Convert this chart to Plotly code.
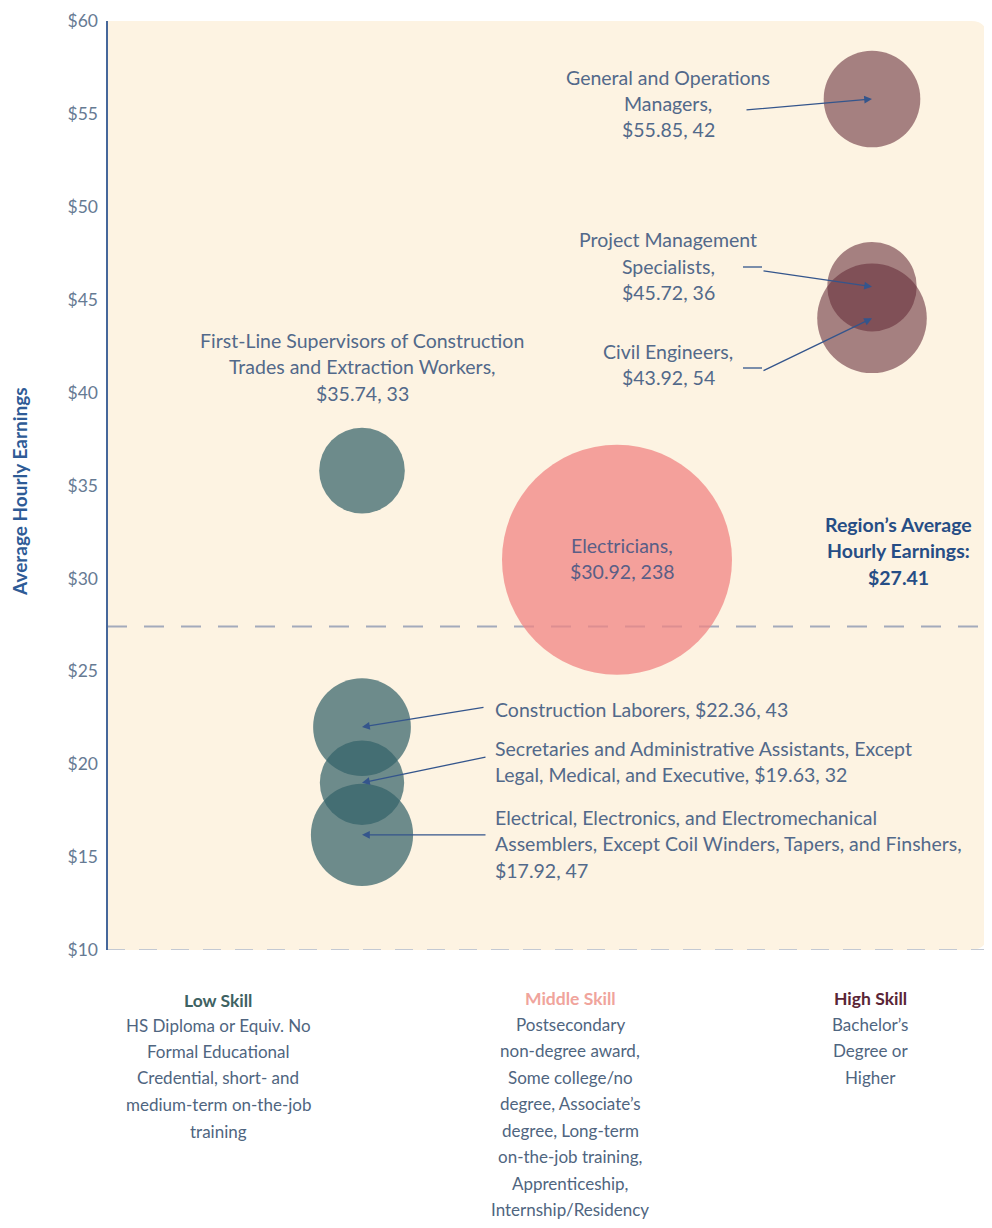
import plotly.graph_objects as go

# occupations, skill group, label values and bubble positions as drawn
occupations = [
    "First-Line Supervisors of Construction Trades and Extraction Workers",
    "Construction Laborers",
    "Secretaries and Administrative Assistants, Except Legal, Medical, and Executive",
    "Electrical, Electronics, and Electromechanical Assemblers, Except Coil Winders, Tapers, and Finshers",
    "Electricians",
    "General and Operations Managers",
    "Project Management Specialists",
    "Civil Engineers",
]
skill = ["Low", "Low", "Low", "Low", "Middle", "High", "High", "High"]
wage_label = ["$35.74", "$22.36", "$19.63", "$17.92", "$30.92", "$55.85", "$45.72", "$43.92"]
drawn_wage = [35.8, 22.0, 19.0, 16.2, 31.0, 55.8, 45.7, 44.0]
jobs = [33, 43, 32, 47, 238, 42, 36, 54]
region_avg = 27.41
y_ticks = [10, 15, 20, 25, 30, 35, 40, 45, 50, 55, 60]

skill_x = {"Low": 1, "Middle": 2, "High": 3}
skill_color = {
    "Low": "rgba(52,99,105,0.72)",
    "Middle": "rgba(240,132,131,0.75)",
    "High": "rgba(102,45,57,0.58)",
}

# page body has an 8px margin, so the figure is shrunk to fit the window
OFF = 8
W, H = 992 - OFF, 1228 - OFF
L, R, T, B = 107 - OFF, 5, 21 - OFF, 278
pw, ph = W - L - R, H - T - B


def px(x):
    return (x - OFF - L) / pw


def py(y):
    return (H - B - (y - OFF)) / ph


fig = go.Figure()

fig.add_trace(go.Scatter(
    x=[skill_x[s] for s in skill],
    y=drawn_wage,
    mode="markers",
    marker=dict(
        size=jobs,
        sizemode="area",
        sizeref=2 * max(jobs) / 230 ** 2,
        color=[skill_color[s] for s in skill],
        opacity=1,
        line=dict(width=0),
    ),
    hovertext=occupations,
    showlegend=False,
))

label_col = "#52698a"
arrow_col = "#34558c"
font_name = "Lato"


def text_lines(lines, x, y0, anchor="center", color=label_col, size=19.5, bold=False,
               step=26.5):
    for i, t in enumerate(lines):
        if bold:
            t = "<b>" + t + "</b>"
        fig.add_annotation(
            x=px(x), y=py(y0 + i * step), xref="paper", yref="paper",
            text=t, showarrow=False, xanchor=anchor, yanchor="middle",
            font=dict(family=font_name, size=size, color=color),
        )


def arrow(i, ax, ay):
    fig.add_annotation(
        x=skill_x[skill[i]], y=drawn_wage[i], xref="x", yref="y",
        text="", showarrow=True, ax=ax, ay=ay,
        arrowhead=2, arrowsize=1.2, arrowwidth=1.3, arrowcolor=arrow_col,
        standoff=0,
    )


def elbow(x0, x1, y):
    fig.add_shape(type="line", xref="paper", yref="paper",
                  x0=px(x0), x1=px(x1), y0=py(y), y1=py(y),
                  line=dict(color=arrow_col, width=1.3))


# bubble labels
text_lines(["First-Line Supervisors of Construction",
            "Trades and Extraction Workers,",
            f"{wage_label[0]}, {jobs[0]}"], 362, 340)
text_lines(["General and Operations", "Managers,", f"{wage_label[5]}, {jobs[5]}"], 668, 77)
text_lines(["Project Management", "Specialists,", f"{wage_label[6]}, {jobs[6]}"], 668, 240)
text_lines(["Civil Engineers,", f"{wage_label[7]}, {jobs[7]}"], 668, 351)
text_lines(["Electricians,", f"{wage_label[4]}, {jobs[4]}"], 622, 545, color="#5a5e86")
text_lines([f"Construction Laborers, {wage_label[1]}, {jobs[1]}"], 493, 709, anchor="left")
text_lines(["Secretaries and Administrative Assistants, Except",
            f"Legal, Medical, and Executive, {wage_label[2]}, {jobs[2]}"], 493, 748, anchor="left")
text_lines(["Electrical, Electronics, and Electromechanical",
            "Assemblers, Except Coil Winders, Tapers, and Finshers,",
            f"{wage_label[3]}, {jobs[3]}"], 493, 817, anchor="left")

arrow(5, -127, 11)
arrow(6, -110, -16)
elbow(743, 762, 267)
arrow(7, -110, 53)
elbow(743, 762, 368)
arrow(1, 123, -20)
arrow(2, 125, -26)
arrow(3, 125, 0)

text_lines(["Region\u2019s Average", "Hourly Earnings:", f"${region_avg}"], 898, 524,
           color="#264d85", bold=True, size=19.5)

# y axis title
fig.add_annotation(
    x=px(20), y=py(492), xref="paper", yref="paper", text="<b>Average Hourly Earnings</b>",
    textangle=-90, showarrow=False, xanchor="center", yanchor="middle",
    font=dict(family=font_name, size=19, color="#2e5b96"),
)

# skill group captions under the chart
text_lines(["Low Skill"], 218, 1000, color="#3e6262", bold=True, size=17.5)
text_lines(["HS Diploma or Equiv. No", "Formal Educational", "Credential, short- and",
            "medium-term on-the-job", "training"], 218, 1025, color="#4f6580", size=17)
text_lines(["Middle Skill"], 570, 998, color="#f0a49c", bold=True, size=17.5)
text_lines(["Postsecondary", "non-degree award,", "Some college/no", "degree, Associate\u2019s",
            "degree, Long-term", "on-the-job training,", "Apprenticeship,",
            "Internship/Residency"], 570, 1024, color="#4f6580", size=17)
text_lines(["High Skill"], 870, 998, color="#5a2536", bold=True, size=17.5)
text_lines(["Bachelor\u2019s", "Degree or", "Higher"], 870, 1024, color="#4f6580", size=17)

# beige plot panel with rounded right corners
rx, ry = 16 / pw, 16 / ph
fig.add_shape(
    type="path", xref="paper", yref="paper", layer="below",
    path=f"M 0,0 L {1 - rx},0 Q 1,0 1,{ry} L 1,{1 - ry} Q 1,1 {1 - rx},1 L 0,1 Z",
    fillcolor="#fdf3e2", line=dict(width=0),
)
# region average line and base line
fig.add_shape(type="line", xref="paper", yref="y", layer="below",
              x0=0, x1=(W - L) / pw, y0=region_avg, y1=region_avg,
              line=dict(color="#a3aabb", width=2, dash="20px,17px"))
fig.add_shape(type="line", xref="paper", yref="y", layer="below",
              x0=0, x1=1, y0=10, y1=10,
              line=dict(color="#c3c9d3", width=2, dash="18px,14px"))
# y axis line
fig.add_shape(type="line", xref="paper", yref="paper",
              x0=0, x1=0, y0=0, y1=1, line=dict(color="#46679a", width=2))

fig.update_xaxes(range=[0, pw / 255], visible=False, automargin=False)
fig.update_yaxes(
    range=[10, 60], tickvals=y_ticks, ticktext=[f"${v}" for v in y_ticks],
    showgrid=False, zeroline=False, showline=False, ticks="", ticklabelstandoff=8,
    ticklabeloverflow="allow", automargin=False,
    tickfont=dict(family=font_name, size=17.5, color="#667a93"),
)
fig.update_layout(
    width=W, height=H,
    margin=dict(l=L, r=R, t=T, b=B),
    paper_bgcolor="white", plot_bgcolor="rgba(0,0,0,0)",
    font=dict(family=font_name),
)

fig.write_html("out.html")
